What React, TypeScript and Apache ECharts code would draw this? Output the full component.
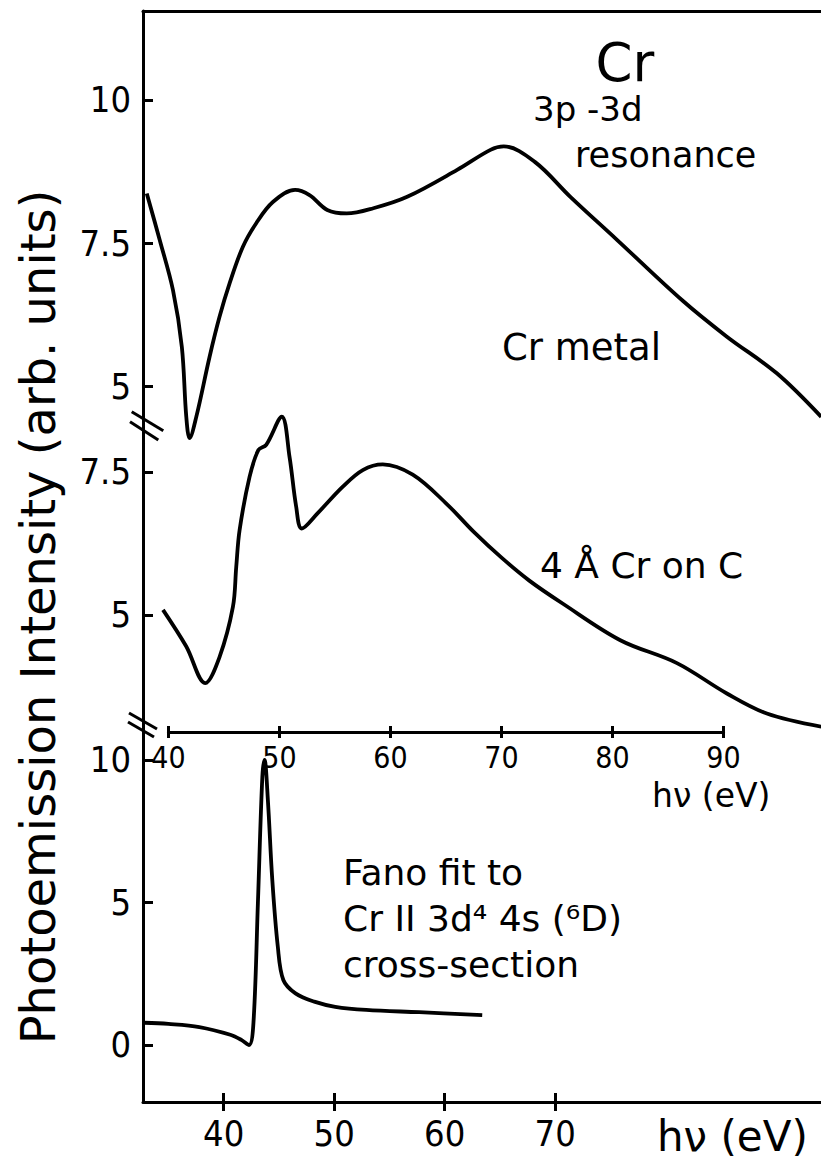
import React, { useEffect, useRef } from "react";
import * as echarts from "echarts";

// ---- data ----
// Cr metal (upper panel), photon energy in eV and intensity (arb. units)
const crMetalEnergy = [38.04, 39.2, 40.4, 41.2, 41.6, 41.9, 42.5, 43.7, 44.6, 45.5, 46.7, 47.9, 49.4, 51.4, 52.7, 54.3, 56.05, 58.45, 61.5, 66.0, 69.0, 70.2, 73.0, 76.2, 80.4, 86.3, 90.3, 94.8, 98.8];
const crMetalIntensity = [8.37, 7.56, 6.68, 5.69, 4.47, 4.1, 4.47, 5.52, 6.22, 6.8, 7.44, 7.85, 8.22, 8.43, 8.34, 8.08, 8.02, 8.11, 8.31, 8.78, 9.13, 9.19, 8.92, 8.31, 7.56, 6.5, 5.87, 5.23, 4.47];

// 4 Å Cr on C (middle panel)
const crOnCEnergy = [39.5, 41.6, 43.3, 44.6, 45.8, 46.1, 46.4, 47.3, 48.1, 48.8, 50.2, 50.9, 51.5, 52.0, 53.4, 55.7, 57.5, 59.3, 62.0, 65.0, 67.5, 70.0, 72.5, 75.5, 80.7, 85.8, 90.3, 93.9, 98.8];
const crOnCIntensity = [5.09, 4.45, 3.81, 4.27, 5.14, 5.84, 6.48, 7.41, 7.88, 7.97, 8.46, 7.76, 6.89, 6.51, 6.77, 7.24, 7.53, 7.63, 7.45, 6.95, 6.45, 6.0, 5.6, 5.2, 4.56, 4.16, 3.63, 3.28, 3.05];

// Fano fit to Cr II 3d4 4s (6D) cross-section (lower panel)
const fanoEnergy = [32.8, 35.0, 37.8, 40.6, 41.6, 42.3, 42.7, 43.1, 43.5, 43.7, 44.0, 44.4, 44.9, 45.4, 46.5, 48.2, 50.1, 52.9, 57.7, 63.4];
const fanoIntensity = [0.78, 0.74, 0.63, 0.36, 0.18, 0.0, 0.8, 5.0, 9.4, 10.0, 8.6, 5.8, 3.45, 2.28, 1.81, 1.52, 1.34, 1.23, 1.15, 1.05];

// tick values
const topYTicks = [5, 7.5, 10];
const midYTicks = [5, 7.5];
const botYTicks = [0, 5, 10];
const botXTicks = [40, 50, 60, 70];

const pair = (xs: number[], ys: number[]) => xs.map((x, i) => [x, ys[i]]);

const BLACK = "#000";
const TICK_FONT = "'DejaVu Sans Condensed', 'DejaVu Sans', sans-serif";
const TEXT_FONT = "'DejaVu Sans', sans-serif";
const L = 143;

function buildOption(): any {
  const line = { show: true, onZero: false, lineStyle: { color: BLACK, width: 3 } };
  const noLine = { show: false, onZero: false };
  const tickStyle = { color: BLACK, width: 3 };
  const hiddenY = (gridIndex: number) => ({
    type: "value", gridIndex, show: false, min: 0, max: 1,
    axisLine: noLine, splitLine: { show: false },
  });
  const yLeft = (gridIndex: number, min: number, max: number, ticks: number[]) => ({
    type: "value", gridIndex, min, max, position: "left",
    axisLine: line,
    axisTick: { show: true, inside: true, length: 10, customValues: ticks, lineStyle: tickStyle },
    axisLabel: { show: true, customValues: ticks, margin: 12, fontSize: 36, color: BLACK, fontFamily: TICK_FONT },
    splitLine: { show: false },
  });

  const series = [
    { data: pair(crMetalEnergy, crMetalIntensity), xAxisIndex: 0, yAxisIndex: 0 },
    { data: pair(crOnCEnergy, crOnCIntensity), xAxisIndex: 1, yAxisIndex: 1 },
    { data: pair(fanoEnergy, fanoIntensity), xAxisIndex: 4, yAxisIndex: 4 },
  ].map((s) => ({
    type: "line", ...s, showSymbol: false, smooth: 0.35, clip: false,
    lineStyle: { color: BLACK, width: 3.8 },
  }));

  const txt = (text: string, x: number, y: number, fontSize: number, extra: any = {}) => ({
    type: "text", x, y, z: 10,
    style: { text, fontSize, fontFamily: TEXT_FONT, fill: BLACK, align: "left", verticalAlign: "middle", ...extra },
  });
  const seg = (x1: number, y1: number, x2: number, y2: number) => ({
    type: "line", z: 10,
    shape: { x1, y1, x2, y2 },
    style: { stroke: BLACK, lineWidth: 3 },
  });

  return {
    animation: false,
    backgroundColor: "#fff",
    grid: [
      { left: L, right: 0, top: 11, height: 432.8 },
      { left: L, right: 0, top: 443.8, height: 296.2 },
      { left: 168.5, width: 555, top: 700, height: 32 },
      { left: 168.5, width: 555, top: 700, height: 32 },
      { left: L, right: 0, top: 740, height: 362 },
      { left: L, right: 0, top: 740, height: 362 },
    ],
    xAxis: [
      {
        type: "value", gridIndex: 0, min: 37.7, max: 98.78, position: "top",
        axisLine: line, axisTick: { show: false }, axisLabel: { show: false }, splitLine: { show: false },
      },
      { type: "value", gridIndex: 1, show: false, min: 37.7, max: 98.78, axisLine: noLine, splitLine: { show: false } },
      {
        type: "value", gridIndex: 2, min: 40, max: 90, interval: 10, position: "bottom",
        axisLine: line,
        axisTick: { show: false },
        axisLabel: { show: true, margin: 10, fontSize: 30, color: BLACK, fontFamily: TICK_FONT },
        splitLine: { show: false },
      },
      {
        // crossing ticks of the inner energy axis
        type: "value", gridIndex: 3, min: 40, max: 90, interval: 10, position: "bottom", offset: 6,
        axisLine: noLine,
        axisTick: { show: true, inside: true, length: 12, lineStyle: tickStyle },
        axisLabel: { show: false }, splitLine: { show: false },
      },
      {
        type: "value", gridIndex: 4, min: 32.7, max: 94.06, position: "bottom",
        axisLine: line,
        axisTick: { show: false },
        axisLabel: { show: true, customValues: botXTicks, margin: 13, fontSize: 36, color: BLACK, fontFamily: TICK_FONT },
        splitLine: { show: false },
      },
      {
        // crossing ticks of the bottom energy axis
        type: "value", gridIndex: 5, min: 32.7, max: 94.06, position: "bottom", offset: 9,
        axisLine: noLine,
        axisTick: { show: true, inside: true, length: 18, customValues: botXTicks, lineStyle: tickStyle },
        axisLabel: { show: false }, splitLine: { show: false },
      },
    ],
    yAxis: [
      yLeft(0, 4, 11.553, topYTicks),
      yLeft(1, 2.818, 7.988, midYTicks),
      hiddenY(2),
      hiddenY(3),
      yLeft(4, -2, 10.7, botYTicks),
      hiddenY(5),
    ],
    series,
    graphic: [
      txt("Cr", 625, 62, 53, { align: "center" }),
      txt("3p -3d", 533, 109, 34),
      txt("resonance", 575, 155, 35),
      txt("Cr metal", 502, 347, 37),
      txt("4 Å Cr on C", 540, 565, 36),
      txt("Fano fit to\nCr II 3d⁴ 4s (⁶D)\ncross-section", 343, 849, 36, { verticalAlign: "top", lineHeight: 46 }),
      txt("hν (eV)", 652, 795, 33),
      txt("hν (eV)", 657, 1136, 42),
      {
        type: "text", x: 38, y: 617, rotation: Math.PI / 2, z: 10,
        style: {
          text: "Photoemission Intensity (arb. units)", fontSize: 48, fontFamily: TEXT_FONT,
          fill: BLACK, align: "center", verticalAlign: "middle",
        },
      },
      // axis break marks
      seg(131.7, 411.7, 163.3, 430.7),
      seg(130, 421.7, 158.3, 440),
      seg(129, 713, 157, 729),
      seg(128, 722, 154, 737),
    ],
  };
}

export default function App() {
  const ref = useRef<HTMLDivElement>(null);
  useEffect(() => {
    if (!ref.current) return;
    const chart = echarts.init(ref.current, undefined, { renderer: "svg" });
    chart.setOption(buildOption());
    return () => chart.dispose();
  }, []);
  return (
    <div
      ref={ref}
      style={{ position: "absolute", left: 0, top: 0, width: 821, height: 1165, background: "#fff" }}
    />
  );
}
